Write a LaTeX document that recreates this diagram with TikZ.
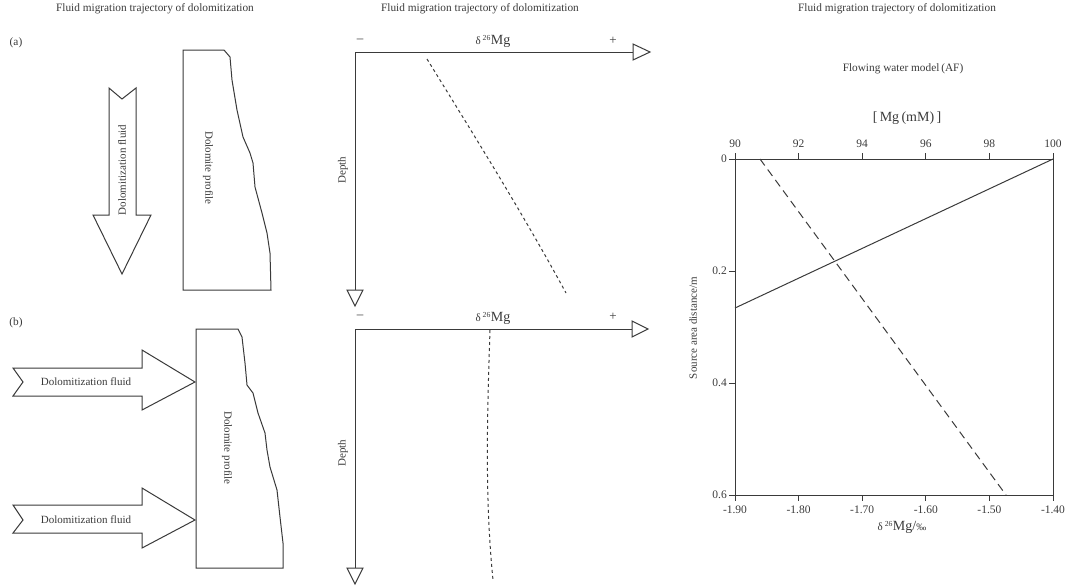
\documentclass[tikz,border=0pt]{standalone}
\usepackage{fontspec}
\setmainfont{Liberation Serif}
\definecolor{ink}{HTML}{3A3A3A}
\tikzset{
  ln/.style={draw=ink, line width=1pt, line join=miter},
  shp/.style={draw=ink, fill=white, line width=1pt, line join=miter},
  txt/.style={text=ink, inner sep=0pt, font=\fontsize{11}{13}\selectfont},
  tck/.style={text=ink, inner sep=0pt, font=\fontsize{11.5}{13}\selectfont},
  ttl/.style={text=ink, inner sep=0pt, font=\fontsize{11.3}{13}\selectfont},
  big/.style={text=ink, inner sep=0pt, font=\fontsize{14}{16}\selectfont},
  sgn/.style={text=ink, inner sep=0pt, font=\fontsize{13}{15}\selectfont},
  sdash/.style={draw=ink, line width=1pt, dash pattern=on 3pt off 3pt},
  ldash/.style={draw=ink, line width=1pt, dash pattern=on 8pt off 5pt},
}
\begin{document}
\begin{tikzpicture}[x=1pt,y=-1pt]
\useasboundingbox (0,0) rectangle (1065,587);

% ---------- titles ----------
\node[ttl] (t1) at (155,9) {Fluid migration trajectory of dolomitization};
\node[ttl] (t2) at (480,9) {Fluid migration trajectory of dolomitization};
\node[ttl] (t3) at (897,9) {Fluid migration trajectory of dolomitization};
\node[ttl] (la) at (16,43) {(a)};
\node[ttl] (lb) at (16,323) {(b)};

% ---------- panel (a) left ----------
\draw[shp] (109,88) -- (122,99) -- (136,88) -- (136,215) -- (151,215) -- (122,274)
  -- (93,215) -- (109,215) -- cycle;
\node[txt, rotate=90] (fa) at (122,170) {Dolomitization fluid};
\draw[shp] (183,50) -- (224,50) -- (230,57) -- (232,80) -- (237,110) -- (243,137)
  -- (250,153) -- (253,163) -- (255,187) -- (262,213) -- (267,233) -- (270,253)
  -- (271,290) -- (183,290) -- cycle;
\node[txt, rotate=-90] (pa) at (208,168) {Dolomite profile};

% ---------- panel (b) left ----------
\draw[shp] (13,368) -- (142,368) -- (142,350) -- (195,382) -- (142,410) -- (142,396)
  -- (13,396) -- (23,382) -- cycle;
\node[txt] (fb1) at (86,382) {Dolomitization fluid};
\draw[shp] (13,505) -- (142,505) -- (142,488) -- (195,520) -- (142,548) -- (142,533)
  -- (13,533) -- (23,520) -- cycle;
\node[txt] (fb2) at (86,520) {Dolomitization fluid};
\draw[shp] (196,329) -- (238,329) -- (242,337) -- (245,363) -- (247,385) -- (253,393)
  -- (258,413) -- (265,433) -- (267,450) -- (270,467) -- (277,490) -- (280,517)
  -- (283,543) -- (283,568) -- (196,568) -- cycle;
\node[txt, rotate=-90] (pb) at (227,448) {Dolomite profile};

% ---------- middle (a) ----------
\coordinate (oa) at (355,52);
\coordinate (xa) at (633,52);
\coordinate (ya) at (355,290);
\draw[ln] (ya) -- (oa) -- (xa);
\draw[shp] (633,44) -- (650,52) -- (633,60) -- cycle;
\draw[shp] (347,290) -- (363,290) -- (355,306) -- cycle;
\node[sgn] (ma) at (360,41) {\textendash};
\node[sgn] (pa2) at (613,41) {+};
\node[big] (da) at (493,41) {{\fontsize{11}{12}\selectfont δ\,\textsuperscript{26}}Mg};
\node[txt, rotate=90] (dpa) at (343,170) {Depth};
\draw[sdash] (427,59) .. controls (472,132) and (522,212) .. (566,293);

% ---------- middle (b) ----------
\coordinate (ob) at (355,329);
\coordinate (xb) at (632,329);
\coordinate (yb) at (355,568);
\draw[ln] (yb) -- (ob) -- (xb);
\draw[shp] (632,321) -- (648,329) -- (632,337) -- cycle;
\draw[shp] (347,568) -- (363,568) -- (355,584) -- cycle;
\node[sgn] (mb) at (360,317) {\textendash};
\node[sgn] (pb2) at (613,317) {+};
\node[big] (db) at (493,318) {{\fontsize{11}{12}\selectfont δ\,\textsuperscript{26}}Mg};
\node[txt, rotate=90] (dpb) at (343,453) {Depth};
\draw[sdash] (490,330) .. controls (487,420) and (485,500) .. (493,580);

% ---------- right plot ----------
\node[ttl] (fw) at (903,69) {Flowing water model\,(AF)};
\node[big] (mg) at (907,118) {[\,Mg\,(mM)\,]};
\draw[ln] (735,159) rectangle (1053,495);
\foreach \i/\t in {0/90,1/92,2/94,3/96,4/98,5/100}{
  \draw[ln] ({735+\i*63.6},159) -- ({735+\i*63.6},153);
  \node[tck] (top\i) at ({735+\i*63.6},144) {\t};
}
\foreach \i/\t in {0/-1.90,1/-1.80,2/-1.70,3/-1.60,4/-1.50,5/-1.40}{
  \draw[ln] ({735+\i*63.6},495) -- ({735+\i*63.6},501);
  \node[tck] (bot\i) at ({735+\i*63.6},510) {\t};
}
\foreach \i/\t in {0/0,1/0.2,2/0.4,3/0.6}{
  \draw[ln] (735,{159+\i*112}) -- (729,{159+\i*112});
  \node[tck, anchor=east] (lft\i) at (727,{159+\i*112}) {\t};
}
\node[txt, rotate=90] (yl) at (693,328) {Source area distance/m};
\node[big] (xl) at (902,527) {{\fontsize{11}{12}\selectfont δ\,\textsuperscript{26}}Mg/{\fontsize{10}{11}\selectfont ‰}};
\coordinate (s1) at (1053,159);
\coordinate (s2) at (735,308);
\draw[ln] (s1) -- (s2);
\coordinate (d1) at (760,159);
\coordinate (d2) at (1006,495);
\draw[ldash] (d1) -- (d2);
\end{tikzpicture}
\end{document}
